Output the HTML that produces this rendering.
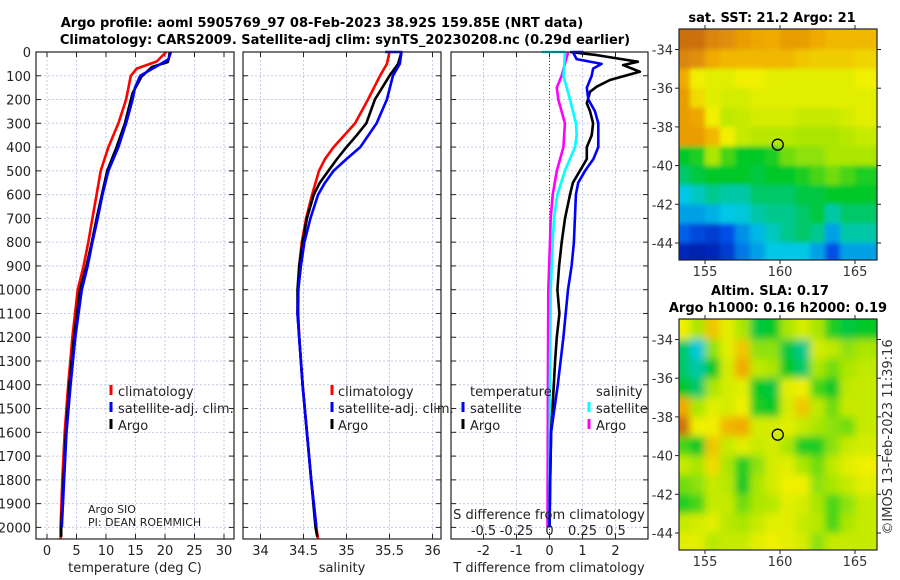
<!DOCTYPE html>
<html><head><meta charset="utf-8"><style>
html,body{margin:0;padding:0;background:#fff;}
svg{display:block;font-family:"DejaVu Sans","Liberation Sans",sans-serif;}
</style></head><body>
<svg id="fig" width="900" height="580" viewBox="0 0 900 580" xmlns="http://www.w3.org/2000/svg">
<defs>
<filter id="blurSST" x="-5%" y="-5%" width="110%" height="110%"><feGaussianBlur stdDeviation="2.5"/></filter>
<filter id="blurSLA" x="-5%" y="-5%" width="110%" height="110%"><feGaussianBlur stdDeviation="4"/></filter>
<clipPath id="clipMap1"><rect x="679" y="29" width="198" height="231"/></clipPath>
<clipPath id="clipMap2"><rect x="679" y="319" width="198" height="231"/></clipPath>
</defs>
<text x="322" y="27" text-anchor="middle" font-size="13" font-weight="bold">Argo profile: aoml 5905769_97 08-Feb-2023 38.92S 159.85E (NRT data)</text>
<text x="345" y="44" text-anchor="middle" font-size="13" font-weight="bold">Climatology: CARS2009. Satellite-adj clim: synTS_20230208.nc (0.29d earlier)</text>
<text x="772" y="22" text-anchor="middle" font-size="13" font-weight="bold">sat. SST: 21.2 Argo: 21</text>
<text x="770" y="295" text-anchor="middle" font-size="13" font-weight="bold">Altim. SLA: 0.17</text>
<text x="778" y="312" text-anchor="middle" font-size="13" font-weight="bold">Argo h1000: 0.16 h2000: 0.19</text>
<text transform="translate(892,437) rotate(-90)" text-anchor="middle" font-size="13" fill="#333">©IMOS 13-Feb-2023 11:39:16</text>
<g id="root"></g>
</svg>
<script>
// ---------- data ----------
const depthTicks = [0,100,200,300,400,500,600,700,800,900,1000,1100,1200,1300,1400,1500,1600,1700,1800,1900,2000];
const tempTicks = [0,5,10,15,20,25,30];
const salTicks = [34,34.5,35,35.5,36];
const salTickLabels = ["34","34.5","35","35.5","36"];
const tdiffTicks = [-2,-1,0,1,2];
const sdiffTicks = [-0.5,-0.25,0,0.25,0.5];
const sdiffTickLabels = ["-0.5","-0.25","0","0.25","0.5"];

const tArgoDepth = [0,20,42,63,104,173,300,400,500,600,700,800,900,1000,1200,1400,1600,1800,2000,2040];
const tArgoVal = [20.8,20.7,20.5,17.8,16,14.5,13.2,11.8,10.2,9.3,8.4,7.6,6.7,5.6,4.6,3.8,3.2,2.8,2.4,2.4];
const tClimDepth = [0,40,70,100,200,300,400,500,600,700,800,900,1000,1200,1400,1600,1800,2000,2050];
const tClimVal = [20.2,18.6,15.2,14.2,13.4,12.1,10.4,9.1,8.4,7.7,7.0,6.2,5.2,4.3,3.6,3.0,2.6,2.3,2.3];
const tSatDepth = [0,30,60,100,150,200,300,400,500,600,700,800,900,1000,1200,1400,1600,1800,2000];
const tSatVal = [21.0,20.6,18.6,15.8,14.9,14.5,13.4,12.1,10.4,9.4,8.6,7.7,6.9,5.9,4.8,4.0,3.3,2.9,2.5];

const sArgoDepth = [0,50,100,200,300,350,400,450,500,550,600,700,800,900,1000,1100,1200,1400,1600,1800,2000,2040];
const sArgoVal = [35.64,35.6,35.5,35.33,35.23,35.12,35.0,34.89,34.79,34.69,34.62,34.54,34.49,34.45,34.43,34.43,34.45,34.49,34.54,34.59,34.64,34.66];
const sClimDepth = [0,50,100,200,300,400,450,500,600,700,800,900,1000,1100,1200,1400,1600,1800,2000,2050];
const sClimVal = [35.5,35.47,35.39,35.25,35.1,34.85,34.75,34.68,34.6,34.53,34.48,34.45,34.44,34.44,34.45,34.49,34.54,34.59,34.65,34.67];
const sSatDepth = [0,0,50,100,200,300,400,450,500,550,600,700,800,900,1000,1100,1200,1400,1600,1800,2000];
const sSatVal = [35.45,35.64,35.62,35.54,35.47,35.35,35.16,35.0,34.85,34.75,34.67,34.58,34.51,34.47,34.44,34.43,34.45,34.49,34.54,34.59,34.65];

const tdArgoDepth = [0,13,41,55,83,118,146,167,216,250,300,350,400,450,500,550,600,700,800,900,1000,1100,1200,1300,1400,1600,1800,2000];
const tdArgoVal = [0.62,1.43,2.68,2.23,2.74,1.83,1.43,1.23,1.13,1.23,1.32,1.28,1.13,1.13,0.92,0.71,0.62,0.47,0.37,0.29,0.24,0.3,0.22,0.17,0.13,0.05,0.02,0.0];
const tdSatDepth = [0,0,30,50,70,100,150,200,250,300,400,450,500,550,600,700,800,900,1000,1200,1400,1600,1800,2000];
const tdSatVal = [1.03,0.71,0.82,1.58,1.32,1.28,1.13,1.18,1.38,1.48,1.48,1.33,1.08,0.87,0.8,0.77,0.74,0.67,0.56,0.42,0.25,0.05,0.02,0.0];
const sdSatDepth = [0,0,50,100,200,300,350,400,500,600,700,800,1000,1400,2000];
const sdSatVal = [-0.06,0.117,0.112,0.105,0.155,0.2,0.206,0.193,0.117,0.06,0.034,0.024,0.009,0.003,0.0];
const sdArgoDepth = [0,50,100,150,200,250,300,400,450,500,600,700,800,1000,1400,2000];
const sdArgoVal = [0.142,0.117,0.092,0.055,0.067,0.092,0.117,0.105,0.08,0.055,0.024,0.009,0.004,-0.009,-0.012,-0.015];

const mapLons = [153.5,154.5,155.5,156.5,157.5,158.5,159.5,160.5,161.5,162.5,163.5,164.5,165.5];
const mapLats = [-33.5,-34.5,-35.5,-36.5,-37.5,-38.5,-39.5,-40.5,-41.5,-42.5,-43.5,-44.5];
const latTicks = [-34,-36,-38,-40,-42,-44];
const lonTicks = [155,160,165];
const sstGrid = [
[0.95,0.95,0.9,0.88,0.85,0.83,0.82,0.85,0.85,0.82,0.8,0.8,0.8],
[0.9,0.88,0.82,0.8,0.8,0.8,0.8,0.8,0.78,0.77,0.77,0.77,0.76],
[0.82,0.72,0.7,0.7,0.72,0.72,0.7,0.7,0.7,0.7,0.7,0.7,0.72],
[0.85,0.75,0.7,0.68,0.68,0.7,0.7,0.7,0.7,0.7,0.7,0.7,0.7],
[0.85,0.83,0.72,0.65,0.66,0.68,0.68,0.68,0.66,0.66,0.66,0.68,0.7],
[0.85,0.85,0.8,0.72,0.66,0.64,0.64,0.64,0.62,0.62,0.62,0.64,0.66],
[0.5,0.52,0.62,0.55,0.5,0.5,0.52,0.58,0.6,0.6,0.62,0.62,0.62],
[0.45,0.48,0.5,0.5,0.5,0.48,0.5,0.5,0.52,0.55,0.58,0.55,0.52],
[0.35,0.38,0.42,0.4,0.4,0.45,0.45,0.45,0.48,0.48,0.5,0.5,0.5],
[0.3,0.3,0.32,0.35,0.36,0.4,0.42,0.42,0.45,0.48,0.4,0.45,0.45],
[0.22,0.18,0.15,0.2,0.28,0.33,0.38,0.42,0.45,0.42,0.3,0.4,0.4],
[0.1,0.08,0.1,0.15,0.25,0.3,0.35,0.35,0.35,0.3,0.2,0.3,0.3]];
const slaGrid = [
[0.72,0.62,0.78,0.7,0.62,0.48,0.5,0.62,0.68,0.62,0.52,0.48,0.5],
[0.45,0.36,0.6,0.7,0.78,0.6,0.6,0.48,0.42,0.68,0.65,0.6,0.62],
[0.45,0.4,0.5,0.68,0.82,0.65,0.62,0.5,0.45,0.62,0.58,0.62,0.65],
[0.5,0.45,0.62,0.68,0.7,0.5,0.48,0.7,0.72,0.55,0.5,0.65,0.66],
[0.82,0.62,0.7,0.68,0.72,0.52,0.5,0.68,0.78,0.65,0.58,0.66,0.66],
[0.95,0.72,0.72,0.8,0.82,0.68,0.68,0.7,0.66,0.62,0.6,0.58,0.66],
[0.55,0.5,0.78,0.66,0.7,0.66,0.68,0.62,0.52,0.52,0.6,0.66,0.68],
[0.66,0.62,0.75,0.62,0.52,0.6,0.68,0.7,0.62,0.58,0.65,0.7,0.72],
[0.58,0.6,0.66,0.64,0.5,0.62,0.68,0.72,0.72,0.6,0.62,0.66,0.7],
[0.52,0.55,0.66,0.66,0.58,0.62,0.64,0.7,0.68,0.62,0.55,0.6,0.66],
[0.66,0.68,0.7,0.64,0.62,0.66,0.7,0.7,0.66,0.64,0.55,0.62,0.66],
[0.7,0.7,0.64,0.66,0.66,0.7,0.72,0.7,0.68,0.6,0.66,0.66,0.66]];
const floatLon = 159.85;
const floatLat = -38.92;

// ---------- helpers ----------
const NS = "http://www.w3.org/2000/svg";
const root = document.getElementById('root');
function mk(tag, attrs, parent){
  const e = document.createElementNS(NS, tag);
  for (const k in attrs) e.setAttribute(k, attrs[k]);
  (parent||root).appendChild(e);
  return e;
}
const Y0 = 52, YB = 539, PPD = 0.2377;
const yDepth = p => Y0 + p*PPD;
const xT = v => 47 + 5.9*v;
const xS = v => 260.5 + 86*(v-34);
const xTD = v => 549.5 + 33*v;
const xSD = v => 549.5 + 132*v;
const panels = [[36,234],[243,441],[451,648]];

function drawGrid(i, xs){
  const [a,b] = panels[i];
  const g = mk('g', {});
  
  
  depthTicks.forEach(p=>{
    const y = yDepth(p);
    mk('line',{x1:a,x2:b,y1:y,y2:y,stroke:'#c6cbe6','stroke-width':1,'stroke-dasharray':'2,2'},g);
    mk('line',{x1:a,x2:a+5,y1:y,y2:y,stroke:'#222','stroke-width':1},g);
    mk('line',{x1:b-5,x2:b,y1:y,y2:y,stroke:'#222','stroke-width':1},g);
  });
  xs.forEach(x=>{
    mk('line',{x1:x,x2:x,y1:Y0,y2:YB,stroke:'#c6cbe6','stroke-width':1,'stroke-dasharray':'2,2'},g);
    mk('line',{x1:x,x2:x,y1:YB-5,y2:YB,stroke:'#222','stroke-width':1},g);
    mk('line',{x1:x,x2:x,y1:Y0,y2:Y0+5,stroke:'#222','stroke-width':1},g);
  });
}
function drawBox(i){
  const [a,b] = panels[i];
  const r = mk('rect',{x:a,y:Y0,width:b-a,height:YB-Y0,fill:'none',stroke:'#222','stroke-width':1.2});
  
  
}
function line(depths, vals, xf, color, name, w){
  const pts = depths.map((p,k)=> xf(vals[k]).toFixed(1)+','+yDepth(p).toFixed(1)).join(' ');
  const e = mk('polyline',{points:pts,fill:'none',stroke:color,'stroke-width':w||2.6,'stroke-linejoin':'round'});
  
  
}
function txt(x,y,s,opts,name){
  const e = mk('text', Object.assign({x:x,y:y,'font-size':13,fill:'#222'},opts||{}));
  e.textContent = s;
  
  
  return e;
}

// ---------- panels ----------
drawGrid(0, tempTicks.map(xT));
drawGrid(1, salTicks.map(xS));
drawGrid(2, tdiffTicks.map(xTD));
const zl = mk('line',{x1:xTD(0),x2:xTD(0),y1:Y0,y2:YB,stroke:'#3a4a20','stroke-width':1,'stroke-dasharray':'1,2'});



line(tClimDepth,tClimVal,xT,'#ff0000','temp-climatology-line');
line(tArgoDepth,tArgoVal,xT,'#000000','temp-argo-line');
line(tSatDepth,tSatVal,xT,'#0000ff','temp-satellite-line');
line(sClimDepth,sClimVal,xS,'#ff0000','sal-climatology-line');
line(sArgoDepth,sArgoVal,xS,'#000000','sal-argo-line');
line(sSatDepth,sSatVal,xS,'#0000ff','sal-satellite-line');
line(sdArgoDepth,sdArgoVal,xSD,'#ff00ff','sdiff-argo-line');
line(sdSatDepth,sdSatVal,xSD,'#00ffff','sdiff-satellite-line');
line(tdArgoDepth,tdArgoVal,xTD,'#000000','tdiff-argo-line');
line(tdSatDepth,tdSatVal,xTD,'#0000ff','tdiff-satellite-line');
[0,1,2].forEach(drawBox);

depthTicks.forEach(p=>txt(31,yDepth(p)+5,String(p),{'text-anchor':'end'},'depth-tick-label'));
tempTicks.forEach(v=>txt(xT(v),555,String(v),{'text-anchor':'middle'},'temp-tick-label'));
salTicks.forEach((v,k)=>txt(xS(v),555,salTickLabels[k],{'text-anchor':'middle'},'sal-tick-label'));
tdiffTicks.forEach(v=>txt(xTD(v),555,String(v),{'text-anchor':'middle'},'tdiff-tick-label'));
sdiffTicks.forEach((v,k)=>txt(xSD(v),535,sdiffTickLabels[k],{'text-anchor':'middle'},'sdiff-tick-label'));
txt(135,572,'temperature (deg C)',{'text-anchor':'middle'},'temp-axis-title');
txt(342,572,'salinity',{'text-anchor':'middle'},'sal-axis-title');
txt(549,572,'T difference from climatology',{'text-anchor':'middle'},'tdiff-axis-title');
txt(549,519,'S difference from climatology',{'text-anchor':'middle'},'sdiff-axis-title');
txt(88,513,'Argo SIO',{'font-size':11},'argo-institution');
txt(88,526,'PI: DEAN ROEMMICH',{'font-size':11},'argo-pi');

function legend(mx, tx, y, color, label, name){
  const m = mk('line',{x1:mx,x2:mx,y1:y-11,y2:y-1,stroke:color,'stroke-width':3});
  
  
  txt(tx,y,label,{},name);
}
legend(111,118,396,'#ff0000','climatology','legend-temp-climatology');
legend(111,118,413,'#0000ff','satellite-adj. clim.','legend-temp-satellite');
legend(111,118,430,'#000000','Argo','legend-temp-argo');
legend(332,338,396,'#ff0000','climatology','legend-sal-climatology');
legend(332,338,413,'#0000ff','satellite-adj. clim.','legend-sal-satellite');
legend(332,338,430,'#000000','Argo','legend-sal-argo');
txt(470,396,'temperature',{},'legend-tdiff-heading');
legend(463,470,413,'#0000ff','satellite','legend-tdiff-satellite');
legend(463,470,430,'#000000','Argo','legend-tdiff-argo');
txt(596,396,'salinity',{},'legend-sdiff-heading');
legend(589,596,413,'#00ffff','satellite','legend-sdiff-satellite');
legend(589,596,430,'#ff00ff','Argo','legend-sdiff-argo');

// ---------- maps ----------
const cmapStops = [[0,[0,0,140]],[0.2,[0,80,230]],[0.35,[0,200,230]],[0.5,[0,200,40]],[0.62,[170,230,0]],[0.72,[240,240,0]],[0.82,[240,170,0]],[1,[190,90,20]]];
function cmap(v){
  v = Math.max(0,Math.min(1,v));
  for (let k=1;k<cmapStops.length;k++){
    const [a,ca]=cmapStops[k-1],[b,cb]=cmapStops[k];
    if (v<=b){const t=(v-a)/(b-a);return 'rgb('+ca.map((c,j)=>Math.round(c+(cb[j]-c)*t)).join(',')+')';}
  }
  return 'rgb(190,90,20)';
}
function drawMap(top, grid, filt, clip, name){
  const x0=679,x1=877,y0=top,y1=top+231;
  const lonX = l => 705 + (l-155)*15;
  const latY = l => (top+20.5) + (-34-l)*19.35;
  const outer = mk('g',{'clip-path':'url(#'+clip+')'});
  
  
  const inner = mk('g',{filter:'url(#'+filt+')'},outer);
  grid.forEach((row,r)=>row.forEach((v,c)=>{
    let xa = lonX(mapLons[c]-0.5), xb = lonX(mapLons[c]+0.5);
    let ya = latY(mapLats[r]+0.5), yb = latY(mapLats[r]-0.5);
    if (c===0) xa -= 25; if (c===row.length-1) xb += 25;
    if (r===0) ya -= 25; if (r===grid.length-1) yb += 25;
    const cell = mk('rect',{x:xa,y:ya,width:xb-xa+0.5,height:yb-ya+0.5,fill:cmap(v)},inner);
    
    
  }));
  const fr = mk('rect',{x:x0,y:y0,width:x1-x0,height:y1-y0,fill:'none',stroke:'#222','stroke-width':1.2});
  
  
  latTicks.forEach(l=>{
    const y=latY(l);
    mk('line',{x1:x0-4,x2:x0,y1:y,y2:y,stroke:'#222'});
    mk('line',{x1:x1,x2:x1+4,y1:y,y2:y,stroke:'#222'});
    txt(x0-6,y+5,String(l),{'text-anchor':'end',fill:'#333'},'lat-tick-label');
  });
  lonTicks.forEach(l=>{
    const x=lonX(l);
    mk('line',{x1:x,x2:x,y1:y1,y2:y1+4,stroke:'#222'});
    mk('line',{x1:x,x2:x,y1:y0-4,y2:y0,stroke:'#222'});
    txt(x,y1+16,String(l),{'text-anchor':'middle',fill:'#333'},'lon-tick-label');
  });
  const c = mk('circle',{cx:lonX(floatLon),cy:latY(floatLat),r:5.5,fill:'none',stroke:'#000','stroke-width':1.3});
  
  
}
drawMap(29, sstGrid, 'blurSST', 'clipMap1', 'sst-map');
drawMap(319, slaGrid, 'blurSLA', 'clipMap2', 'sla-map');
</script>
</body></html>
